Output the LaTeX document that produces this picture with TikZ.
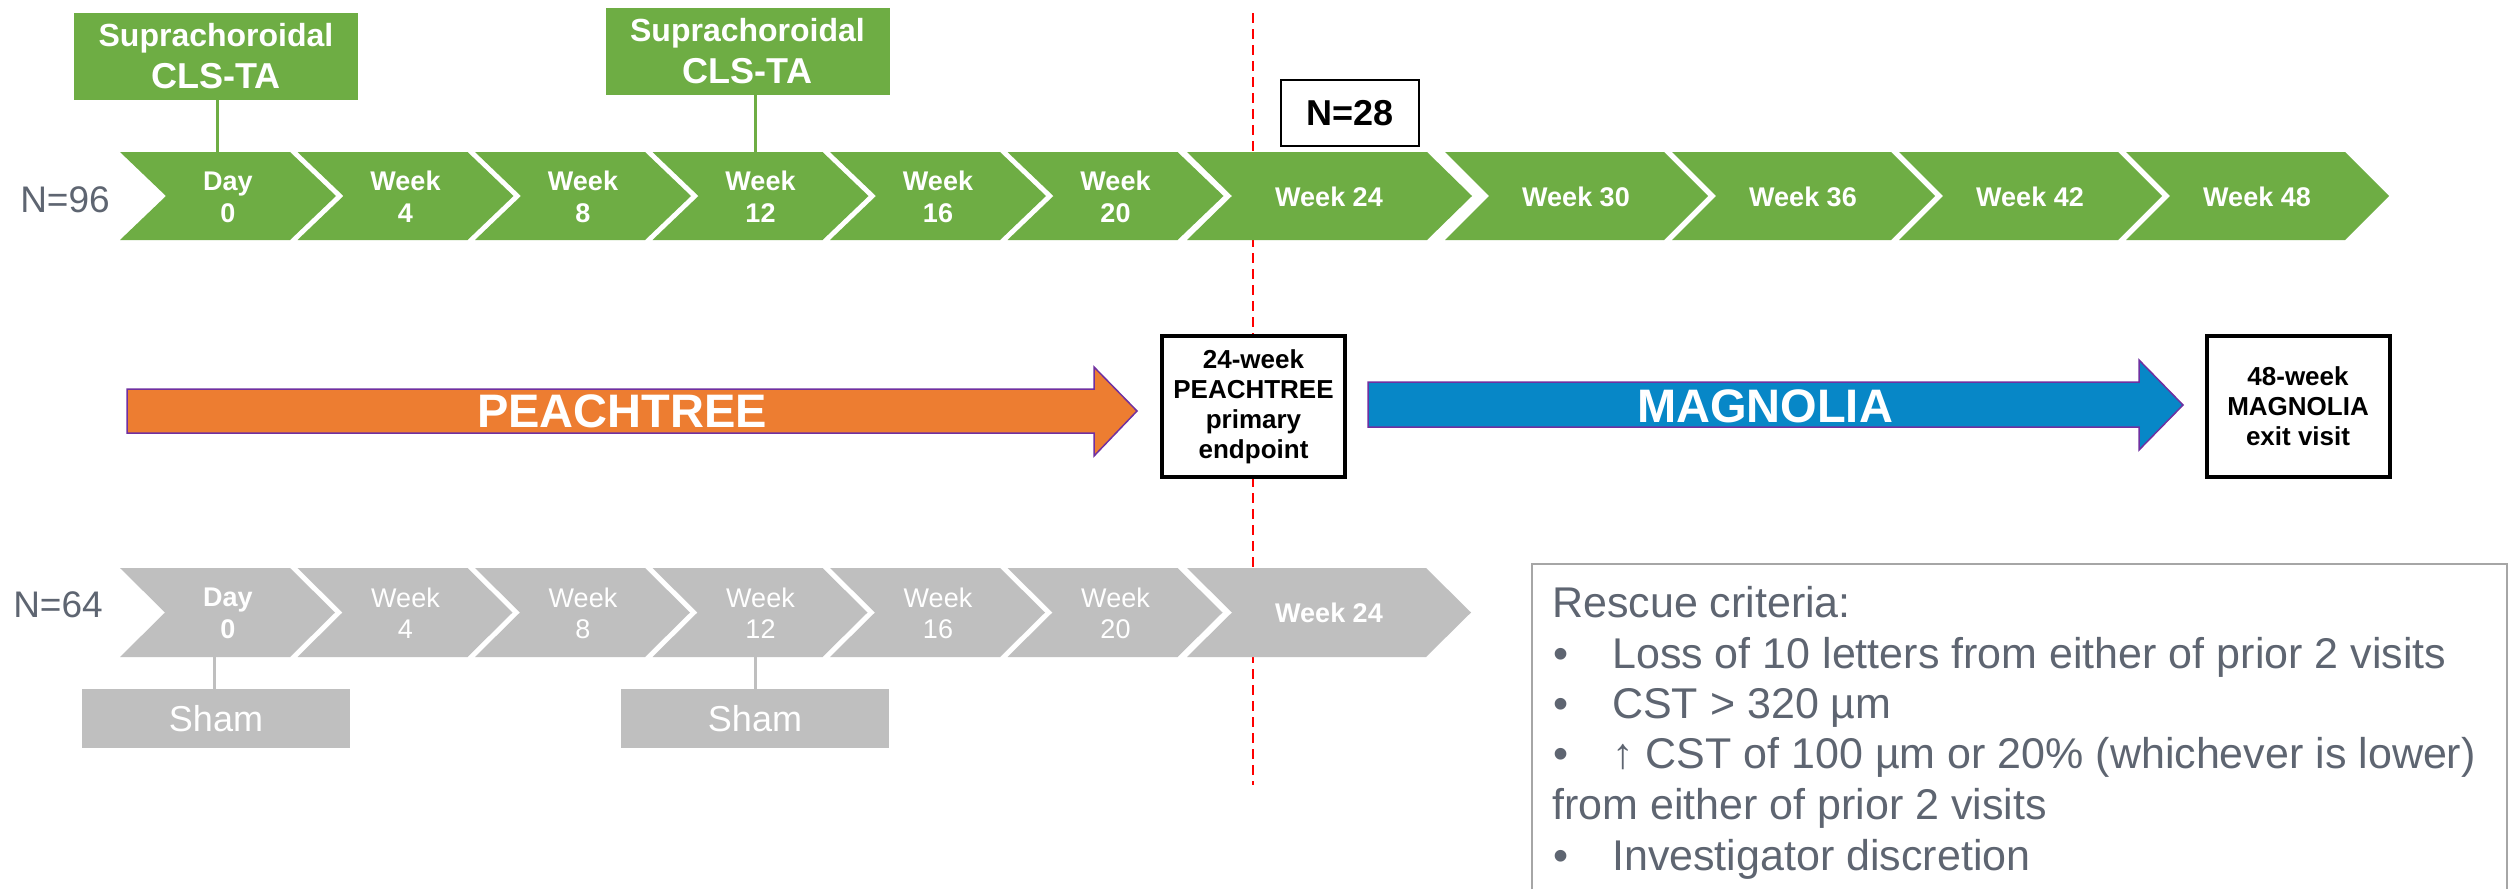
\documentclass[tikz,border=0pt]{standalone}
\usepackage{fontspec}
\setmainfont{Liberation Sans}
\definecolor{cgreen}{RGB}{110,173,68}
\definecolor{cgray}{RGB}{191,191,191}
\definecolor{corange}{RGB}{237,125,49}
\definecolor{cblue}{RGB}{7,135,199}
\definecolor{cpurple}{RGB}{112,48,160}
\definecolor{cslate}{RGB}{94,101,113}
\definecolor{cborder}{RGB}{166,166,166}
\newcommand{\chevpath}[6]{%
  \fill[#6] (#1,#2) -- ++(#3,0) -- ++(#4,#5) -- ++(-#4,#5) -- ++(-#3,0) -- ++(#4,-#5) -- cycle;}
\tikzset{
  wkb/.style={text=white, font=\bfseries\fontsize{27}{32}\selectfont, align=center, inner sep=0pt},
  wkr/.style={text=white, font=\fontsize{27}{31}\selectfont, align=center, inner sep=0pt},
  gbox/.style={fill=cgreen, text=white, font=\bfseries\fontsize{32}{42}\selectfont, align=center, minimum width=284pt, minimum height=87pt, inner sep=0pt},
  sbox/.style={fill=cgray, text=white, font=\fontsize{36}{43}\selectfont, minimum width=268pt, minimum height=59pt, inner sep=0pt},
  bbox/.style={draw=black, line width=4pt, fill=white, font=\bfseries\fontsize{26}{30}\selectfont, align=center, minimum width=183pt, minimum height=141pt, inner sep=0pt},
  nbox/.style={draw=black, line width=2.5pt, fill=white, font=\bfseries\fontsize{36}{43}\selectfont, minimum width=138pt, minimum height=66pt, inner sep=0pt},
  ntext/.style={text=cslate, font=\fontsize{37}{44}\selectfont, inner sep=0pt},
  rtext/.style={text=cslate, font=\fontsize{43}{50}\selectfont, inner sep=0pt, anchor=base west},
  gconn/.style={draw=cgreen, line width=3pt},
  sconn/.style={draw=cgray, line width=3pt},
  bigarrow/.style={draw=cpurple, line width=1.5pt},
  atext/.style={text=white, font=\bfseries\fontsize{47}{56}\selectfont, inner sep=0pt},
}
\begin{document}
\begin{tikzpicture}[x=1pt,y=-1pt]
\fill[white] (0,0) rectangle (2511,889);
\useasboundingbox (0,0) rectangle (2511,889);

% red dashed divider (behind everything)
\coordinate (rtop) at (1253,13);
\coordinate (rbot) at (1253,785);
\draw[red, line width=2pt, dash pattern=on 10pt off 6pt] (rtop) -- (rbot);

% ---------- Row 1 (green) ----------
\node[ntext] (n96) at (65,200) {N=96};
\chevpath{120}{152}{170}{46}{44}{cgreen}
\chevpath{297.5}{152}{170}{46}{44}{cgreen}
\chevpath{475}{152}{170}{46}{44}{cgreen}
\chevpath{652.5}{152}{170}{46}{44}{cgreen}
\chevpath{830}{152}{170}{46}{44}{cgreen}
\chevpath{1007.5}{152}{170}{46}{44}{cgreen}
\chevpath{1187}{152}{240}{45}{44}{cgreen}
\chevpath{1445}{152}{219}{44}{44}{cgreen}
\chevpath{1672}{152}{219}{44}{44}{cgreen}
\chevpath{1899}{152}{219}{44}{44}{cgreen}
\chevpath{2126}{152}{219}{44}{44}{cgreen}
\node[wkb] (g0) at (228,197) {Day\\0};
\node[wkb] (g4) at (405.5,197) {Week\\4};
\node[wkb] (g8) at (583,197) {Week\\8};
\node[wkb] (g12) at (760.5,197) {Week\\12};
\node[wkb] (g16) at (938,197) {Week\\16};
\node[wkb] (g20) at (1115.5,197) {Week\\20};
\node[wkb] (g24) at (1329,197) {Week 24};
\node[wkb] (g30) at (1576,197) {Week 30};
\node[wkb] (g36) at (1803,197) {Week 36};
\node[wkb] (g42) at (2030,197) {Week 42};
\node[wkb] (g48) at (2257,197) {Week 48};

% treatment boxes
\node[gbox] (t1) at (216,56.5) {Suprachoroidal\\{\fontsize{36}{42}\selectfont CLS-TA}};
\node[gbox] (t2) at (747.5,51.5) {Suprachoroidal\\{\fontsize{36}{42}\selectfont CLS-TA}};
\coordinate (c0top) at (217,152);
\coordinate (c12top) at (755,152);
\draw[gconn] (c0top |- t1.south) -- (c0top);
\draw[gconn] (c12top |- t2.south) -- (c12top);

\node[nbox] (n28) at (1350,113) {N=28};

% ---------- Middle arrows ----------
\filldraw[fill=corange, bigarrow] (127,389) -- (1094,389) -- (1094,367) -- (1137,411) -- (1094,456) -- (1094,433) -- (127,433) -- cycle;
\node[atext] (peach) at (622,411) {PEACHTREE};
\filldraw[fill=cblue, bigarrow] (1368,382) -- (2139,382) -- (2139,360) -- (2183,405) -- (2139,450) -- (2139,427) -- (1368,427) -- cycle;
\node[atext] (magn) at (1765,406) {MAGNOLIA};

\node[bbox] (pep) at (1253.5,406.5) {24-week\\PEACHTREE\\primary\\endpoint};
\node[bbox] (mex) at (2298,406.5) {48-week\\MAGNOLIA\\exit visit};

% ---------- Row 2 (gray) ----------
\node[ntext] (n64) at (58,605) {N=64};
\chevpath{120}{568}{170}{45}{44.5}{cgray}
\chevpath{297.5}{568}{170}{45}{44.5}{cgray}
\chevpath{475}{568}{170}{45}{44.5}{cgray}
\chevpath{652.5}{568}{170}{45}{44.5}{cgray}
\chevpath{830}{568}{170}{45}{44.5}{cgray}
\chevpath{1007.5}{568}{170}{45}{44.5}{cgray}
\chevpath{1187}{568}{239}{45}{44.5}{cgray}
\node[wkb] (s0) at (228,613) {Day\\0};
\node[wkr] (s4) at (405.5,613) {Week\\4};
\node[wkr] (s8) at (583,613) {Week\\8};
\node[wkr] (s12) at (760.5,613) {Week\\12};
\node[wkr] (s16) at (938,613) {Week\\16};
\node[wkr] (s20) at (1115.5,613) {Week\\20};
\node[wkb] (s24) at (1329,613) {Week 24};

\node[sbox] (sh1) at (216,718.5) {Sham};
\node[sbox] (sh2) at (755,718.5) {Sham};
\coordinate (s0bot) at (214,657);
\coordinate (s12bot) at (755,657);
\draw[sconn] (s0bot) -- (s0bot |- sh1.north);
\draw[sconn] (s12bot) -- (s12bot |- sh2.north);

% ---------- Rescue criteria ----------
\coordinate (rb1) at (1532,889);
\coordinate (rb2) at (1532,564);
\coordinate (rb3) at (2507,564);
\coordinate (rb4) at (2507,889);
\draw[cborder, line width=2.5pt] (rb1) -- (rb2) -- (rb3) -- (rb4);
\node[rtext] (rc0) at (1552,617) {Rescue criteria:};
\node[rtext] (rb1t) at (1553,668) {•};
\node[rtext] (rc1) at (1612,668) {Loss of 10 letters from either of prior 2 visits};
\node[rtext] (rb2t) at (1553,718) {•};
\node[rtext] (rc2) at (1612,718) {CST > 320 µm};
\node[rtext] (rb3t) at (1553,768) {•};
\node[rtext] (rc3) at (1612,768) {↑ CST of 100 µm or 20\% (whichever is lower)};
\node[rtext] (rc4) at (1552,819) {from either of prior 2 visits};
\node[rtext] (rb4t) at (1553,870) {•};
\node[rtext] (rc5) at (1612,870) {Investigator discretion};
\end{tikzpicture}
\end{document}
